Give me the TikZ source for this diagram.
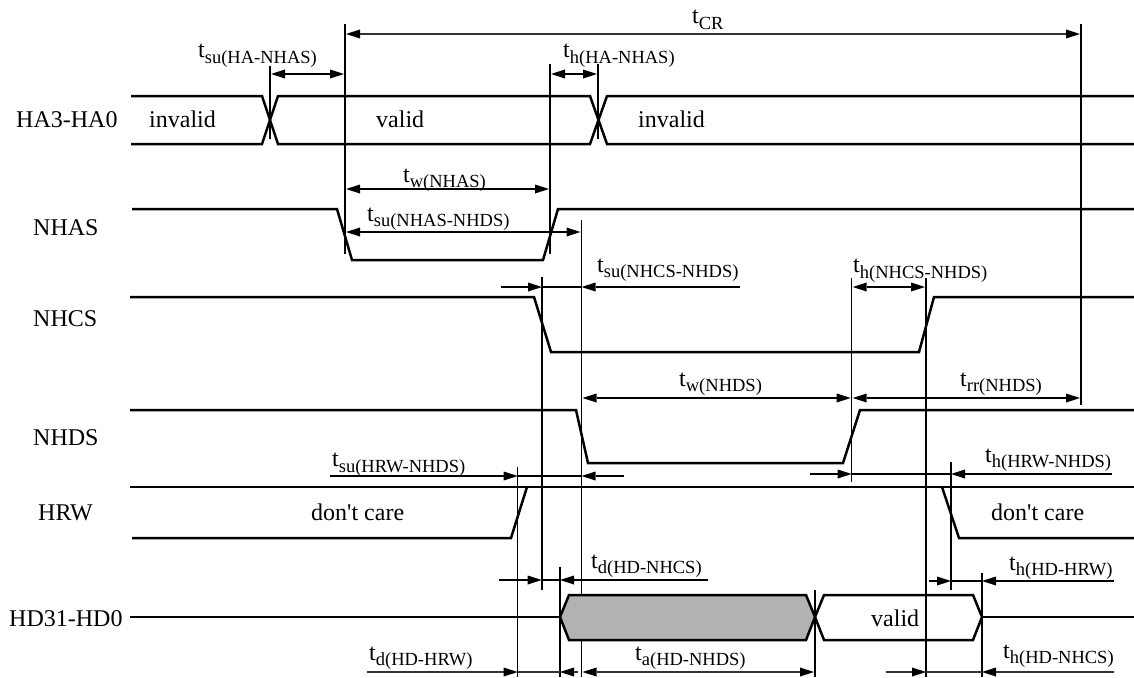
\documentclass[tikz,border=0pt]{standalone}
\usepackage{fontspec}
\setmainfont{Liberation Serif}
\newfontfamily\plainf{Liberation Serif}
\usetikzlibrary{arrows.meta}
\newcommand{\tsub}[1]{t\raisebox{-5.5pt}{\fontsize{18.5}{20}\selectfont #1}}
\tikzset{
  every node/.style={font=\fontsize{24}{28}\selectfont, inner sep=0pt, anchor=base west},
  sig/.style={line width=2.5pt, line join=miter},
  guide/.style={line width=1.05pt, black},
  dim/.style={line width=1.05pt, black},
  dimthick/.style={line width=1.7pt, black!80},
  head/.style={-{Stealth[length=14pt,width=9pt,inset=0pt,black,line width=0pt]}},
  both/.style={{Stealth[length=14pt,width=9pt,inset=0pt,black,line width=0pt]}-{Stealth[length=14pt,width=9pt,inset=0pt,black,line width=0pt]}}
}
\begin{document}
\begin{tikzpicture}[x=1pt,y=-1pt]
\useasboundingbox (0,0) rectangle (1134,677);
\fill[white] (0,0) rectangle (1134,677);
% guide line ends
\foreach \n/\x/\a/\b in {A/270/66/139, B/345/24/254, C/550/64/254, D/598/64/139, E/581.5/220/677,
  F/542/277/590, G/851.7/278/482, H/926/278/677, I/1081/24/405, J/517.7/467/677, K/951/462/590,
  L/560/567/677, M/982/573/677, N/815/590/677}{
  \coordinate (\n t) at (\x,\a);
  \coordinate (\n b) at (\x,\b);
  \draw[guide] (\n t) -- (\n b);
}
% both-way dimensions
\coordinate (su1) at (270,74);   \coordinate (su2) at (345,74);
\coordinate (hh1) at (550,74);   \coordinate (hh2) at (598,74);
\coordinate (wa1) at (345,189);  \coordinate (wa2) at (550,189);
\coordinate (sn1) at (345,232);  \coordinate (sn2) at (581.5,232);
\coordinate (hc1) at (851.7,287);\coordinate (hc2) at (926,287);
\coordinate (wd1) at (581.5,398);\coordinate (wd2) at (851.7,398);
\coordinate (rr1) at (851.7,398);\coordinate (rr2) at (1081,398);
\foreach \p/\q in {su1/su2, hh1/hh2, wa1/wa2, sn1/sn2, hc1/hc2, wd1/wd2, rr1/rr2}{
  \draw[dim,both,shorten <=1pt,shorten >=1pt] (\p) -- (\q);
}
\coordinate (cr1) at (345,34);   \coordinate (cr2) at (1081,34);
\coordinate (ta1) at (581.5,672);\coordinate (ta2) at (815,672);
\foreach \p/\q in {cr1/cr2, ta1/ta2}{
  \draw[dimthick,both,shorten <=1pt,shorten >=1pt] (\p) -- (\q);
}
% inward dimensions: line from a to b, head into b; line from c to d, head into d
\foreach \a/\ax/\bx/\cx/\dx/\y/\st in {
  p/501/542/740/581.5/287/dim,
  q/330/517.7/624/581.5/476/dim,
  r/810/851.7/1112/951/474/dim,
  s/499/541.7/708/560/580/dim,
  u/929/951/1114/982/581/dim,
  v/367/517.7/578/560/672/dimthick,
  w/886/926/1114/982/672/dimthick}{
  \coordinate (\a1) at (\ax,\y);
  \coordinate (\a2) at (\bx,\y);
  \coordinate (\a3) at (\cx,\y);
  \coordinate (\a4) at (\dx,\y);
  \draw[\st,head] (\a1) -- (\a2);
  \draw[\st,head] (\a3) -- (\a4);
  \draw[\st] (\a2) -- (\a4);
}
% signals
\draw[sig] (131,96) -- (262,96) -- (278,144) -- (590,144) -- (607,96) -- (1134,96);
\draw[sig] (131,144) -- (262,144) -- (278,96) -- (590,96) -- (607,144) -- (1134,144);
\draw[sig] (132,209) -- (337,209) -- (352,260) -- (543,260) -- (558,209) -- (1134,209);
\draw[sig] (130,297) -- (534,297) -- (551,352) -- (919,352) -- (934,297) -- (1134,297);
\draw[sig] (130,410) -- (576,410) -- (588,463) -- (843,463) -- (860,410) -- (1134,410);
\draw[sig] (130,487) -- (1134,487);
\draw[sig] (132,538) -- (511,538) -- (527,487);
\draw[sig] (942,487) -- (959,538) -- (1134,538);
\draw[sig] (130,617) -- (560,617);
\draw[sig] (982,617) -- (1134,617);
\draw[sig,fill=black!30] (560,617) -- (569,595) -- (806,595) -- (815,617) -- (806,640) -- (569,640) -- cycle;
\draw[sig] (815,617) -- (824,595) -- (973,595) -- (982,617) -- (973,640) -- (824,640) -- cycle;
% signal names
\node (nHA) at (16,127) {HA3-HA0};
\node (nAS) at (33,235) {NHAS};
\node (nCS) at (33,326.5) {NHCS};
\node (nDS) at (33,445.5) {NHDS};
\node (nRW) at (38,520.5) {HRW};
\node (nHD) at (9,626.5) {HD31-HD0};
% state names
\node (s1) at (149,127) {invalid};
\node (s2) at (376,127) {valid};
\node (s3) at (638,127) {invalid};
\node[font=\fontsize{24}{28}\plainf] (s4) at (311,520) {don't care};
\node[font=\fontsize{24}{28}\plainf] (s5) at (991,520) {don't care};
\node (s6) at (871,626) {valid};
% timing names
\node (t1) at (692,24) {\tsub{CR}};
\node (t2) at (198,58) {\tsub{su(HA-NHAS)}};
\node (t3) at (563,58) {\tsub{h(HA-NHAS)}};
\node (t4) at (403,182) {\tsub{w(NHAS)}};
\node (t5) at (367,221) {\tsub{su(NHAS-NHDS)}};
\node (t6) at (597,272) {\tsub{su(NHCS-NHDS)}};
\node (t7) at (853,272.5) {\tsub{h(NHCS-NHDS)}};
\node (t8) at (679,386) {\tsub{w(NHDS)}};
\node (t9) at (960,386) {\tsub{rr(NHDS)}};
\node (t10) at (332,466.5) {\tsub{su(HRW-NHDS)}};
\node (t11) at (985,462) {\tsub{h(HRW-NHDS)}};
\node (t12) at (591,568) {\tsub{d(HD-NHCS)}};
\node (t13) at (1009,570) {\tsub{h(HD-HRW)}};
\node (t14) at (369,660) {\tsub{d(HD-HRW)}};
\node (t15) at (635,660) {\tsub{a(HD-NHDS)}};
\node (t16) at (1003,658) {\tsub{h(HD-NHCS)}};
\end{tikzpicture}
\end{document}
